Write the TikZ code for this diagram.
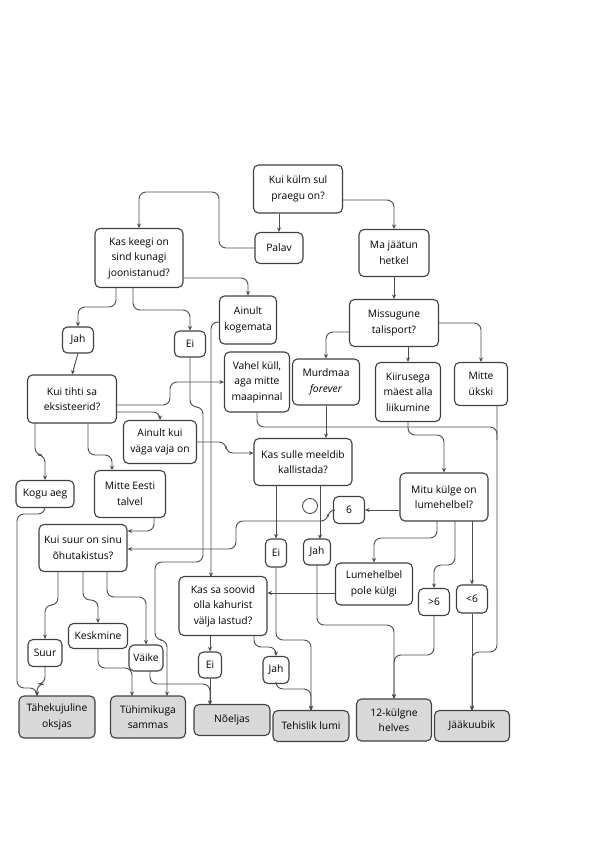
\documentclass[tikz,border=0pt]{standalone}
\usepackage{fontspec}
\setmainfont{Open Sans}
\usetikzlibrary{arrows.meta}
\begin{document}
\begin{tikzpicture}[x=1pt,y=-1pt,
  box/.style={draw=black!75,line width=1.1pt,rounded corners=5pt,align=center,inner sep=1pt,font=\fontsize{10.3}{15.5}\selectfont,fill=white},
  end/.style={box,fill=black!15},
  ar/.style={draw=black!70,line width=0.9pt,rounded corners=7pt,-{Stealth[length=4.5pt,width=4pt]}},
  ln/.style={draw=black!70,line width=0.9pt,rounded corners=7pt}]
\useasboundingbox (0,0) rectangle (600,849);
\node[box,minimum width=89pt,minimum height=48pt] (kulm) at (298,189) {Kui külm sul\\praegu on?};
\node[box,minimum width=48pt,minimum height=31pt] (palav) at (279,248) {Palav};
\node[box,minimum width=88pt,minimum height=59pt] (keegi) at (139,258) {Kas keegi on\\sind kunagi\\joonistanud?};
\node[box,minimum width=70pt,minimum height=47pt] (jaatun) at (394,253) {Ma jäätun\\hetkel};
\node[box,minimum width=57pt,minimum height=48pt] (kogemata) at (248,320) {Ainult\\kogemata};
\node[box,minimum width=89pt,minimum height=47pt] (sport) at (394,323) {Missugune\\talisport?};
\node[box,minimum width=31pt,minimum height=26pt] (jah1) at (78,340) {Jah};
\node[box,minimum width=31pt,minimum height=26pt] (ei1) at (190,344) {Ei};
\node[box,minimum width=65pt,minimum height=60pt] (vahel) at (257,382) {Vahel küll,\\aga mitte\\maapinnal};
\node[box,minimum width=67pt,minimum height=46pt] (murd) at (326,382) {Murdmaa\\\textit{forever}};
\node[box,minimum width=65pt,minimum height=59pt] (kiir) at (408,392) {Kiirusega\\mäest alla\\liikumine};
\node[box,minimum width=53pt,minimum height=43pt] (ukski) at (481,384) {Mitte\\ükski};
\node[box,minimum width=89pt,minimum height=48pt] (tihti) at (72,399) {Kui tihti sa\\eksisteerid?};
\node[box,minimum width=73pt,minimum height=43pt] (vaja) at (160,442) {Ainult kui\\väga vaja on};
\node[box,minimum width=98pt,minimum height=47pt] (kall) at (303,462) {Kas sulle meeldib\\kallistada?};
\node[box,minimum width=58pt,minimum height=27pt] (kogu) at (45,494) {Kogu aeg};
\node[box,minimum width=71pt,minimum height=47pt] (eesti) at (130,494) {Mitte Eesti\\talvel};
\node[box,minimum width=88pt,minimum height=48pt] (mitu) at (444,497) {Mitu külge on\\lumehelbel?};
\node[box,minimum width=31pt,minimum height=27pt] (kuus) at (349,510) {6};
\node[box,minimum width=88pt,minimum height=47pt] (suur) at (83,548) {Kui suur on sinu\\õhutakistus?};
\node[box,minimum width=21pt,minimum height=28pt] (ei2) at (276,553) {Ei};
\node[box,minimum width=27pt,minimum height=26pt] (jah2) at (317,552) {Jah};
\node[box,minimum width=77pt,minimum height=42pt] (pole) at (374,584) {Lumehelbel\\pole külgi};
\node[box,minimum width=88pt,minimum height=59pt] (kahur) at (223,606) {Kas sa soovid\\olla kahurist\\välja lastud?};
\node[box,minimum width=31pt,minimum height=27pt] (gt) at (434,602) {>6};
\node[box,minimum width=31pt,minimum height=28pt] (lt) at (472,599) {<6};
\node[box,minimum width=59pt,minimum height=25pt] (kesk) at (98,636) {Keskmine};
\node[box,minimum width=34pt,minimum height=27pt] (suur2) at (45,653) {Suur};
\node[box,minimum width=34pt,minimum height=26pt] (vaike) at (146,658) {Väike};
\node[box,minimum width=23pt,minimum height=26pt] (ei3) at (210,665) {Ei};
\node[box,minimum width=26pt,minimum height=27pt] (jah3) at (276,670) {Jah};
\node[end,minimum width=76pt,minimum height=42pt] (tahe) at (57,717) {Tähekujuline\\oksjas};
\node[end,minimum width=75pt,minimum height=42pt] (tuhi) at (148,717) {Tühimikuga\\sammas};
\node[end,minimum width=76pt,minimum height=31pt] (noel) at (232,720) {Nõeljas};
\node[end,minimum width=76pt,minimum height=31pt] (tehis) at (311,726) {Tehislik lumi};
\node[end,minimum width=75pt,minimum height=42pt] (kaksteist) at (394,720) {12-külgne\\helves};
\node[end,minimum width=75pt,minimum height=31pt] (kuub) at (472,726) {Jääkuubik};

\draw[ar] (kulm.south -| palav.north) -- (palav.north);
\draw[ar] (kulm.east |- 0,200) -- (394,200) -- (jaatun.north);
\draw[ar] (palav.west) -- (219,248) -- (219,192) -- (139,192) -- (keegi.north);
\draw[ar] (jaatun.south) -- (sport.north);
\draw[ar] (keegi.east |- 0,278) -- (248,278) -- (kogemata.north);
\draw[ar] (116,288) -- (116,307) -- (78,307) -- (jah1.north);
\draw[ar] (133,288) -- (133,310) -- (190,310) -- (ei1.north);
\draw[ar] (jah1.south) -- (tihti.north);
\draw[ar] (tihti.east |- 0,405) -- (170,405) -- (170,382) -- (vahel.west);
\draw[ar] (tihti.east |- 0,412) -- (160,412) -- (vaja.north);
\draw[ar] (35,423) -- (35,455) -- (45,455) -- (kogu.north);
\draw[ar] (88,423) -- (88,455) -- (112,455) -- (112,470);
\draw[ar] (vaja.east) -- (226,442) -- (226,453) -- (kall.west |- 0,453);
\draw[ar] (ei1.south) -- (190,407) -- (203,407) -- (203,562) -- (155,562) -- (155,640) -- (167,640) -- (167,696);
\draw[ar] (kogemata.west |- 0,322) -- (211,322) -- (211,577);
\draw[ar] (sport.west |- 0,332) -- (326,332) -- (murd.north);
\draw[ar] (kiir.north |- sport.south) -- (kiir.north);
\draw[ar] (sport.east) -- (481,323) -- (ukski.north);
\draw[ar] (murd.south) -- (kall.north -| murd.south);
\draw[ar] (kiir.south) -- (408,435) -- (444,435) -- (mitu.north);
\draw[ar] (mitu.west |- kuus) -- (kuus.east);
\draw[ar] (kuus.west) -- (328,510) -- (328,521) -- (236,521) -- (236,549) -- (suur.east |- 0,549);
\draw[ar] (154,517) -- (154,531) -- (suur.east |- 0,531);
\draw[ar] (kogu.south) -- (45,514) -- (17,514) -- (17,688) -- (37,688) -- (37,696);
\draw[ar] (276,485) -- (ei2.north);
\draw[ar] (320,485) -- (320,539);
\draw[draw=black!70,line width=0.9pt] (310,506) circle (7.5pt);
\draw[ar] (ei2.south) -- (276,640) -- (311,640) -- (tehis.north);
\draw[ar] (317,565) -- (317,625) -- (394,625) -- (kaksteist.north);
\draw[ar] (437,521) -- (437,538) -- (374,538) -- (pole.north);
\draw[ar] (455,521) -- (455,565) -- (434,565) -- (gt.north);
\draw[ar] (472,521) -- (lt.north);
\draw[ar] (pole.west |- 0,593) -- (kahur.east |- 0,593);
\draw[ar] (gt.south) -- (434,655) -- (394,655) -- (394,699);
\draw[ar] (lt.south) -- (kuub.north);
\draw[ar] (ukski.south -| 497,0) -- (497,652) -- (472,652) -- (472,711);
\draw[ln] (vahel.south) -- (257,427) -- (497,427) -- (497,440);
\draw[ar] (58,572) -- (58,605) -- (45,605) -- (suur2.north);
\draw[ar] (83,572) -- (83,600) -- (98,600) -- (kesk.north);
\draw[ar] (107,572) -- (107,597) -- (146,597) -- (vaike.north);
\draw[ar] (suur2.south) -- (45,684) -- (37,684) -- (37,696);
\draw[ar] (kesk.south) -- (98,668) -- (132,668) -- (132,696);
\draw[ar] (150,671) -- (150,684) -- (210,684) -- (210,705);
\draw[ar] (ei3.south) -- (210,705);
\draw[ar] (210,636) -- (ei3.north);
\draw[ar] (254,636) -- (254,647) -- (276,647) -- (jah3.north);
\draw[ar] (jah3.south) -- (276,689) -- (311,689) -- (311,711);
\end{tikzpicture}
\end{document}
